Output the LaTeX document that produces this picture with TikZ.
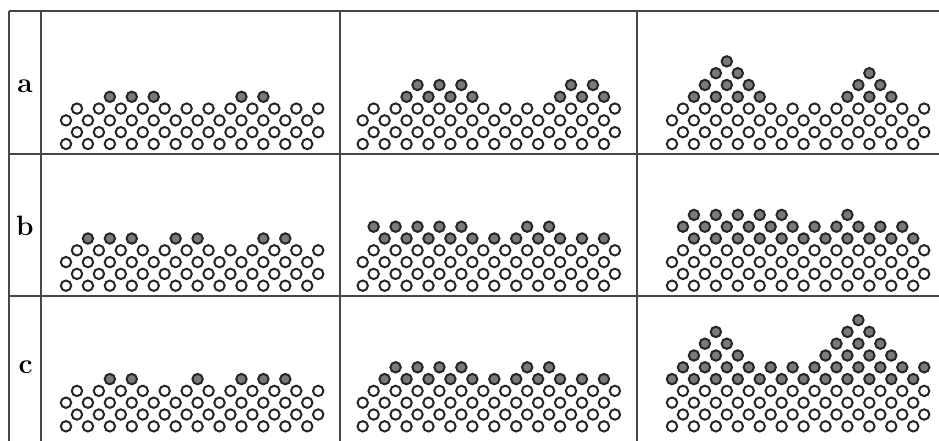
\documentclass[tikz,border=0pt]{standalone}
\usepackage{tikz}

\tikzset{
  grain/.style={draw=black!85, line width=2pt, fill=white},
  dark grain/.style={grain, fill=black!52},
  rule/.style={draw=black!72, line width=1.4pt},
  tag/.style={inner sep=0pt, font=\fontsize{28}{30}\selectfont\bfseries}
}
% one pile: four white rows, then the grey rows as row/{positions}
\newcommand{\pile}[3]{%
  \begin{scope}[shift={(#1,#2)}]
    \foreach \j in {0,...,3}
      \foreach \i in {0,...,11}
        \draw[grain] ({\i*21.93+mod(\j,2)*10.96},{-\j*11.8}) circle (5.2pt);
    \foreach \j/\row in {#3}
      \foreach \i in \row
        \draw[dark grain] ({\i*21.93+mod(\j,2)*10.96},{-\j*11.8}) circle (5.2pt);
  \end{scope}}

\begin{document}
\begin{tikzpicture}[x=1pt, y=-1pt]
  \useasboundingbox (0,0) rectangle (939,441);
  \draw[rule] (9,11) -- (939,11);
  \draw[rule] (9,154) -- (939,154);
  \draw[rule] (9,296) -- (939,296);
  \draw[rule] (9,11) -- (9,441);
  \draw[rule] (41,11) -- (41,441);
  \draw[rule] (340,11) -- (340,441);
  \draw[rule] (637,11) -- (637,441);
  \node[tag] (rowa) at (25,86) {a};
  \node[tag] (rowb) at (25,225.5) {b};
  \node[tag] (rowc) at (25.5,367) {c};
  \pile{66}{144}{4/{2,3,4,8,9}}
  \pile{362.7}{144}{4/{2,3,4,5,9,10,11},5/{2,3,4,9,10}}
  \pile{672}{144}{4/{1,2,3,4,8,9,10},5/{1,2,3,8,9},6/{2,3,9},7/{2}}
  \pile{66}{285.7}{4/{1,2,3,5,6,9,10}}
  \pile{362.7}{285.7}{4/{1,...,11},5/{0,1,2,3,4,7,8}}
  \pile{672}{285.7}{4/{1,...,11},5/{0,...,10},6/{1,2,3,4,5,8}}
  \pile{66}{426.3}{4/{2,3,6,8,9,10}}
  \pile{362.7}{426.3}{4/{1,...,11},5/{1,2,3,4,7,8}}
  \pile{672}{426.3}{4/{0,...,11},5/{0,...,11},6/{1,2,3,7,8,9,10},7/{1,2,7,8,9},8/{2,8,9},9/{8}}
\end{tikzpicture}
\end{document}
